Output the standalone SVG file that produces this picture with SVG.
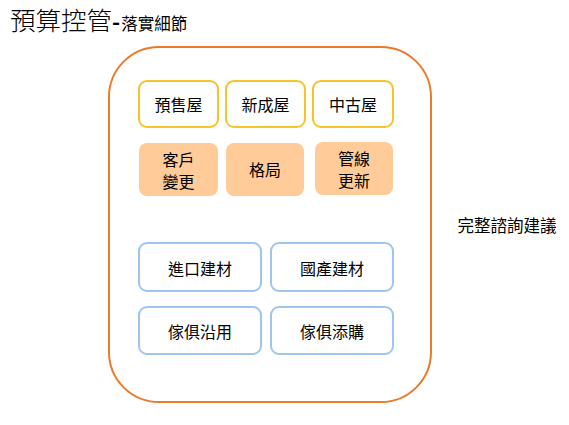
<svg xmlns="http://www.w3.org/2000/svg" width="569" height="425" viewBox="0 0 569 425">
<style>
text{font-family:"Noto Sans CJK TC","Noto Sans CJK SC",sans-serif;fill:#000;}
.t{font-size:16px;text-anchor:middle;dominant-baseline:central;}
.y{fill:#fff;stroke:#F4C42A;stroke-width:2;}
.o{fill:#FFCC99;stroke:none;}
.b{fill:#fff;stroke:#9FC5EC;stroke-width:2;}
</style>
<rect width="569" height="425" fill="#fff"/>
<text x="10" y="30" style="font-size:25.5px;font-weight:300">預算控管<tspan style="font-size:22px;font-weight:700">-</tspan><tspan style="font-size:16.5px;font-weight:400" dx="1">落實細節</tspan></text>
<g id="container"><rect x="109" y="47" width="322" height="355" rx="50" fill="#fff" stroke="#EB7A2A" stroke-width="2"/></g>
<text x="507" y="225" class="t" style="font-size:16.5px">完整諮詢建議</text>
<g id="n1"><rect class="y" x="139" y="81" width="79" height="46" rx="8"/><text class="t" x="178.5" y="104">預售屋</text></g>
<g id="n2"><rect class="y" x="226" y="81" width="79" height="46" rx="8"/><text class="t" x="265.5" y="104">新成屋</text></g>
<g id="n3"><rect class="y" x="313" y="81" width="80" height="46" rx="8"/><text class="t" x="353" y="104">中古屋</text></g>
<g id="n4"><rect class="o" x="139" y="143" width="79" height="53" rx="8"/><text class="t" x="178.5" y="159">客戶</text><text class="t" x="178.5" y="181">變更</text></g>
<g id="n5"><rect class="o" x="226" y="143" width="78" height="53" rx="8"/><text class="t" x="265" y="169">格局</text></g>
<g id="n6"><rect class="o" x="315" y="142" width="78" height="53" rx="8"/><text class="t" x="354" y="158">管線</text><text class="t" x="354" y="180">更新</text></g>
<g id="n7"><rect class="b" x="139" y="243" width="122" height="48" rx="8"/><text class="t" x="200" y="268">進口建材</text></g>
<g id="n8"><rect class="b" x="271" y="243" width="122" height="48" rx="8"/><text class="t" x="332" y="268">國產建材</text></g>
<g id="n9"><rect class="b" x="139" y="307" width="122" height="47" rx="8"/><text class="t" x="200" y="331">傢俱沿用</text></g>
<g id="n10"><rect class="b" x="271" y="307" width="122" height="47" rx="8"/><text class="t" x="332" y="331">傢俱添購</text></g>
<g id="connectors"></g>
</svg>
